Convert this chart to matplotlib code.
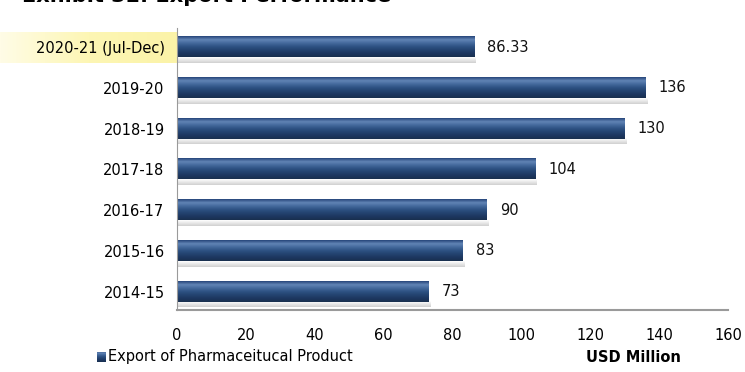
import numpy as np
import matplotlib
matplotlib.use("Agg")
import matplotlib.pyplot as plt
from matplotlib.colors import LinearSegmentedColormap

plt.rcParams["font.family"] = ["DejaVu Sans"]

YEARS = ["2014-15", "2015-16", "2016-17", "2017-18", "2018-19", "2019-20", "2020-21 (Jul-Dec)"]
VALUES = [73, 83, 90, 104, 130, 136, 86.33]
LABELS = ["73", "83", "90", "104", "130", "136", "86.33"]
XTICKS = [0, 20, 40, 60, 80, 100, 120, 140, 160]

BAR_CMAP = LinearSegmentedColormap.from_list(
    "bar", ["#19304f", "#1d3760", "#234370", "#2e5283", "#44699c", "#6184b5", "#27467a"])
SHADOW_CMAP = LinearSegmentedColormap.from_list("shadow", ["#ffffff", "#c4c4c4"])

fig = plt.figure(figsize=(7.45, 3.72), dpi=100)
ax = fig.add_axes([0.2376, 0.167, 0.7395, 0.758])

h = 0.5
grad = np.linspace(0, 1, 64).reshape(-1, 1)
for i, v in enumerate(VALUES):
    # soft shadow under each bar
    ax.imshow(grad[::-1], cmap=SHADOW_CMAP, aspect="auto", origin="lower",
              extent=[0, v + 0.5, i - h / 2 - 0.14, i - h / 2], zorder=1, alpha=0.8)
    ax.imshow(grad, cmap=BAR_CMAP, aspect="auto", origin="lower",
              extent=[0, v, i - h / 2, i + h / 2], zorder=2)
    ax.text(v + 3.8, i, LABELS[i], va="center", ha="left", fontsize=10.5, color="#111111")

ax.set_xlim(0, 160)
ax.set_ylim(-0.45, 6.47)
ax.set_xticks(XTICKS)
ax.set_xticklabels([str(t) for t in XTICKS], fontsize=10.5)
ax.set_yticks(range(len(YEARS)))
ax.set_yticklabels(YEARS, fontsize=10.5)
ax.tick_params(axis="x", length=0, pad=13)
ax.tick_params(axis="y", length=0, pad=9)
for s in ["top", "right"]:
    ax.spines[s].set_visible(False)
ax.spines["left"].set_color("#9a9a9a")
ax.spines["bottom"].set_color("#9a9a9a")
ax.spines["bottom"].set_linewidth(1.5)

# yellow highlight behind the latest period label
hl = fig.add_axes([0.0, 1 - 63 / 372, 0.2376, 31 / 372], zorder=-1)
hgrad = np.linspace(0, 1, 100).reshape(1, -1)
hl.imshow(hgrad, cmap=LinearSegmentedColormap.from_list("hl", ["#fffce6", "#fdf6b4", "#fbf3a8"]),
          aspect="auto", extent=[0, 1, 0, 1])
hl.axis("off")

fig.text(0.03, 1.01, "Exhibit 3E: Export Performance", fontsize=15, fontweight="bold",
         va="center", ha="left")

# legend
lg = fig.add_axes([97 / 745, 1 - 362 / 372, 8 / 745, 10 / 372])
lg.imshow(grad, cmap=BAR_CMAP, aspect="auto", origin="lower", extent=[0, 1, 0, 1])
lg.axis("off")
fig.text(108 / 745, 1 - 357 / 372, "Export of Pharmaceitucal Product", fontsize=10.5,
         va="center", ha="left")
fig.text(633 / 745, 1 - 357 / 372, "USD Million", fontsize=10.5, fontweight="bold",
         va="center", ha="center")

fig.savefig("out.png", dpi=100, facecolor="white")
